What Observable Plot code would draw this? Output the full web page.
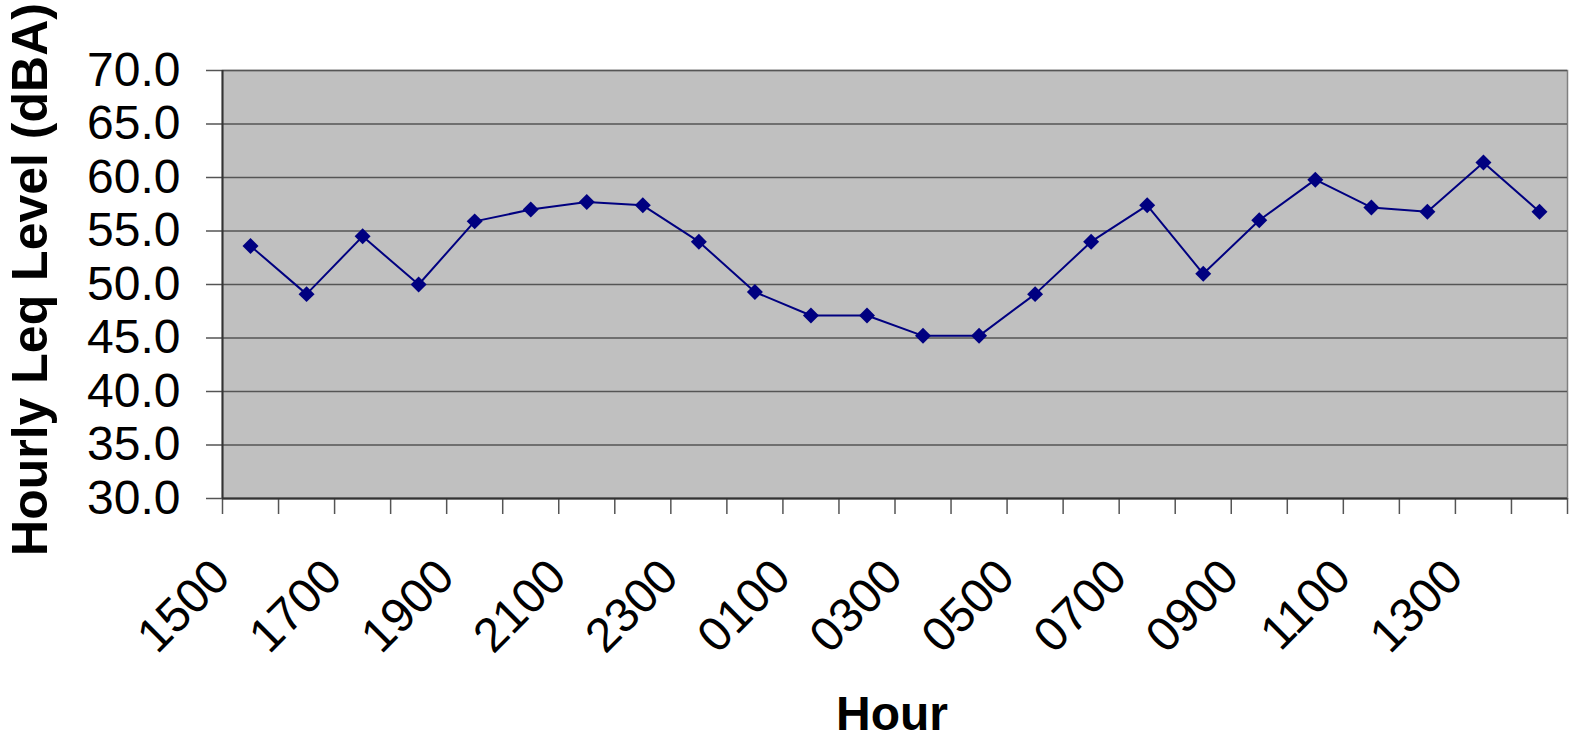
<!DOCTYPE html>
<html>
<head>
<meta charset="utf-8">
<script src="https://cdn.jsdelivr.net/npm/d3@7"></script>
<script src="https://cdn.jsdelivr.net/npm/@observablehq/plot@0.6"></script>
<style>
  html, body { margin: 0; padding: 0; background: white; }
</style>
</head>
<body>
<div id="chart"></div>
<script>
const hours = ["1500","1600","1700","1800","1900","2000","2100","2200","2300","0000","0100","0200",
               "0300","0400","0500","0600","0700","0800","0900","1000","1100","1200","1300","1400"];
const levels = [53.6, 49.1, 54.5, 50.0, 55.9, 57.0, 57.7, 57.4, 54.0, 49.3, 47.1, 47.1,
                45.2, 45.2, 49.1, 54.0, 57.4, 51.0, 56.0, 59.8, 57.2, 56.8, 61.4, 56.8];
const yTicks = [30, 35, 40, 45, 50, 55, 60, 65, 70];
const xLabelHours = ["1500","1700","1900","2100","2300","0100","0300","0500","0700","0900","1100","1300"];
const yTitle = "Hourly Leq Level (dBA)";
const xTitle = "Hour";

const data = hours.map((h, i) => ({i, hour: h, v: levels[i]}));
const labelData = xLabelHours.map(h => ({i: hours.indexOf(h), hour: h}));
const edges = d3.range(hours.length + 1).map(k => k - 0.5);

const chart = Plot.plot({
  width: 1570,
  height: 739,
  marginLeft: 222,
  marginRight: 3,
  marginTop: 70,
  marginBottom: 241,
  style: {fontFamily: "'Liberation Sans', Arial, sans-serif", background: "white", color: "black"},
  x: {type: "linear", domain: [-0.5, hours.length - 0.5]},
  y: {domain: [30, 70]},
  marks: [
    Plot.frame({fill: "#c0c0c0", stroke: "#808080", strokeWidth: 1.5}),
    Plot.gridY(yTicks, {stroke: "#555", strokeOpacity: 1, strokeWidth: 1.5}),
    Plot.axisY({ticks: yTicks, tickSize: 16, tickPadding: 26, fontSize: 48, stroke: "#555", strokeWidth: 1.5,
                tickFormat: d => d.toFixed(1), label: null}),
    Plot.axisX({ticks: edges, tickSize: 16, tickFormat: () => "", stroke: "#555", strokeWidth: 1.5, label: null}),
    Plot.ruleX([-0.5], {stroke: "#333", strokeWidth: 2}),
    Plot.ruleY([30], {stroke: "#333", strokeWidth: 2}),
    Plot.text(labelData, {x: "i", frameAnchor: "bottom", text: "hour", rotate: -45, textAnchor: "end",
                          lineAnchor: "middle", dx: -29, dy: 70, fontSize: 48, fill: "black"}),
    Plot.line(data, {x: "i", y: "v", stroke: "#000080", strokeWidth: 2}),
    Plot.dot(data, {x: "i", y: "v", symbol: "diamond2", r: 7.2, fill: "#000080", stroke: "none"}),
    Plot.text([yTitle], {frameAnchor: "left", text: d => d, rotate: -90, dx: -192, dy: -5, textAnchor: "middle",
                         lineAnchor: "middle", fontSize: 50, fontWeight: "bold", fill: "black"}),
    Plot.text([xTitle], {frameAnchor: "bottom", text: d => d, dx: -3, dy: 216, lineAnchor: "middle",
                         fontSize: 48, fontWeight: "bold", fill: "black"})
  ]
});
document.getElementById("chart").appendChild(chart);
</script>
</body>
</html>
